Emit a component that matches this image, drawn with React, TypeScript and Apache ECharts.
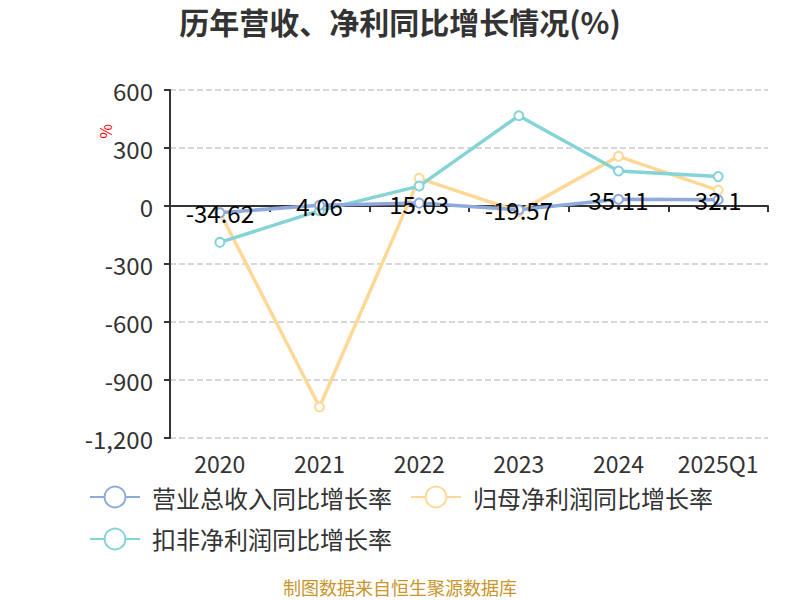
import React, { useEffect, useRef } from "react";
import * as echarts from "echarts";

const categories = ["2020", "2021", "2022", "2023", "2024", "2025Q1"];
const revenueGrowth = [-34.62, 4.06, 15.03, -19.57, 35.11, 32.1];
const netProfitGrowth = [-32, -1040, 143, -29, 257, 81];
const deductedGrowth = [-188, -24, 103, 467, 181, 152];
const seriesNames = ["营业总收入同比增长率", "归母净利润同比增长率", "扣非净利润同比增长率"];
const colors = ["#8eaadc", "#ffd897", "#84d4d6"];

export default function App() {
  const ref = useRef<HTMLDivElement>(null);
  useEffect(() => {
    if (!ref.current) return;
    const chart = echarts.init(ref.current, null, { renderer: "svg" });
    const font = "'Noto Sans CJK SC', 'Noto Sans', sans-serif";
    chart.setOption({
      animation: false,
      color: colors,
      textStyle: { fontFamily: font },
      title: {
        text: "历年营收、净利同比增长情况(%)",
        left: "center",
        top: 1,
        textStyle: { fontSize: 30, fontWeight: "bold", color: "#333", fontFamily: font },
      },
      grid: { left: 170, right: 32, top: 90, bottom: 162, containLabel: false },
      legend: {
        left: 84,
        top: 480,
        width: 660,
        itemWidth: 50,
        itemHeight: 26,
        itemGap: 18,
        textStyle: { fontSize: 24, color: "#333", fontFamily: font, padding: [0, 0, 0, 7] },
        data: seriesNames,
      },
      graphic: [
        {
          type: "text",
          left: 97,
          top: 124,
          rotation: Math.PI / 2,
          style: { text: "%", fill: "#ff0000", fontSize: 16, fontFamily: font },
        },
        {
          type: "text",
          left: "center",
          top: 578,
          style: { text: "制图数据来自恒生聚源数据库", fill: "#c8952b", fontSize: 18, fontFamily: font },
        },
      ],
      xAxis: [
        {
          type: "category",
          data: categories,
          position: "bottom",
          axisLine: { onZero: true, lineStyle: { color: "#333", width: 2 } },
          axisTick: { show: true, length: 6, lineStyle: { color: "#333", width: 2 } },
          axisLabel: { show: false },
        },
        {
          type: "category",
          data: categories,
          position: "bottom",
          axisLine: { show: false },
          axisTick: { show: false },
          axisLabel: { show: true, interval: 0, fontSize: 23, color: "#333", margin: 13, fontFamily: font },
        },
      ],
      yAxis: {
        type: "value",
        min: -1200,
        max: 600,
        interval: 300,
        axisLine: { show: true, lineStyle: { color: "#333", width: 2 } },
        axisTick: { show: true, length: 6, lineStyle: { color: "#333", width: 2 } },
        axisLabel: { fontSize: 24, color: "#333", margin: 17, fontFamily: font },
        splitLine: { show: true, lineStyle: { color: "#ccc", type: "dashed", width: 1.5 } },
      },
      series: [
        {
          name: seriesNames[0],
          type: "line",
          data: revenueGrowth,
          symbol: "emptyCircle",
          symbolSize: 9,
          lineStyle: { width: 3.5 },
          label: { show: true, position: "inside", fontSize: 24, color: "#000", fontFamily: font },
          z: 3,
        },
        {
          name: seriesNames[1],
          type: "line",
          data: netProfitGrowth,
          symbol: "emptyCircle",
          symbolSize: 9,
          lineStyle: { width: 3.5 },
          z: 2,
        },
        {
          name: seriesNames[2],
          type: "line",
          data: deductedGrowth,
          symbol: "emptyCircle",
          symbolSize: 9,
          lineStyle: { width: 3.5 },
          z: 2,
        },
      ],
    });
    return () => chart.dispose();
  }, []);
  return (
    <div
      ref={ref}
      style={{ position: "absolute", left: 0, top: 0, width: 800, height: 600 }}
    />
  );
}
